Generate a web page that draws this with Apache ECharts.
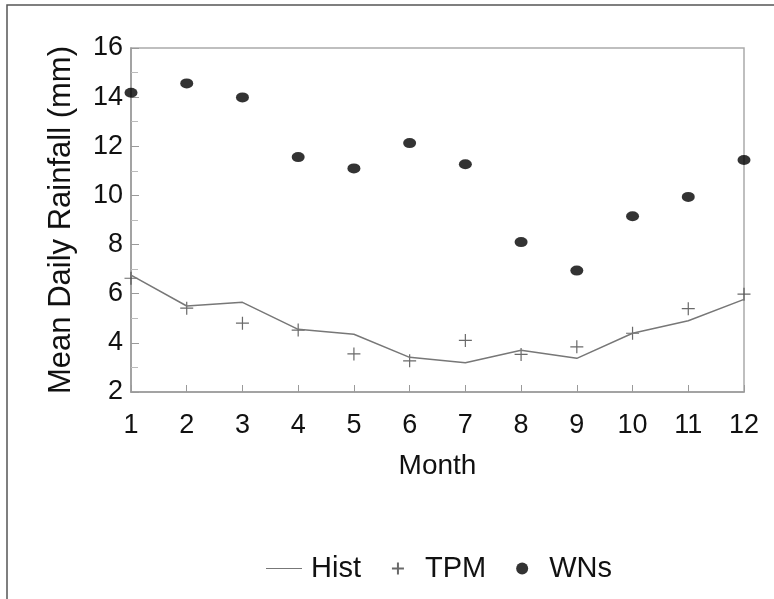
<!DOCTYPE html>
<html>
<head>
<meta charset="utf-8">
<script src="https://cdn.jsdelivr.net/npm/echarts@6/dist/echarts.min.js"></script>
<style>
  html, body { margin: 0; padding: 0; background: #fff; }
  #chart { width: 774px; height: 599px; }
</style>
</head>
<body>
<div id="chart"></div>
<script>
  // monthly mean daily rainfall
  const months = [1, 2, 3, 4, 5, 6, 7, 8, 9, 10, 11, 12]
  const hist = [6.76, 5.50, 5.65, 4.55, 4.35, 3.41, 3.19, 3.70, 3.37, 4.39, 4.90, 5.77]
  const tpm = [6.63, 5.41, 4.80, 4.52, 3.55, 3.27, 4.10, 3.53, 3.84, 4.39, 5.39, 5.98]
  const wns = [14.18, 14.56, 13.99, 11.56, 11.10, 12.13, 11.27, 8.10, 6.94, 9.15, 9.94, 11.44]

  const font = 'Liberation Sans, Arial, sans-serif'
  const axisGray = '#9a9a9a'
  const crossPath = 'path://M0,6 L12,6 M6,0 L6,12'
  // thin line icon for the legend, the extra moveTo points keep the box 36x12
  const lineIcon = 'path://M0,0 M36,12 M0,5.4 L36,5.4 L36,6.6 L0,6.6 Z'

  const pairs = (vals) => months.map((m, i) => [m, vals[i]])

  const chart = echarts.init(document.getElementById('chart'))
  chart.setOption({
    backgroundColor: '#fff',
    animation: false,
    graphic: [
      {
        type: 'polyline',
        shape: { points: [[7, 599], [7, 5], [774, 5]] },
        style: { stroke: '#555', lineWidth: 1.5, fill: null }
      }
    ],
    grid: {
      left: 131, right: 30, top: 48, bottom: 207,
      show: true, borderColor: '#aaa', borderWidth: 1.5
    },
    legend: {
      left: 261,
      top: 549,
      itemWidth: 36,
      itemHeight: 12,
      itemGap: 30,
      textStyle: { fontFamily: font, fontSize: 29, color: '#111', padding: [0, 0, 0, 4] },
      data: [
        { name: 'Hist', icon: lineIcon, itemStyle: { color: '#777', borderWidth: 0 } },
        'TPM',
        'WNs'
      ]
    },
    xAxis: {
      type: 'value',
      min: 1, max: 12, interval: 1,
      name: 'Month',
      nameLocation: 'middle',
      nameGap: 60,
      nameTextStyle: { fontFamily: font, fontSize: 28, color: '#111' },
      axisLine: { lineStyle: { color: axisGray, width: 1.5 } },
      axisTick: { inside: true, length: 7, lineStyle: { color: axisGray } },
      axisLabel: { fontFamily: font, fontSize: 27, color: '#111', margin: 20 },
      splitLine: { show: false }
    },
    yAxis: {
      type: 'value',
      min: 2, max: 16, interval: 2,
      name: 'Mean Daily Rainfall (mm)',
      nameLocation: 'middle',
      nameGap: 54,
      nameTextStyle: { fontFamily: font, fontSize: 31, color: '#111' },
      axisLine: { show: true, lineStyle: { color: axisGray, width: 1.5 } },
      axisTick: { inside: true, length: 8, lineStyle: { color: axisGray } },
      minorTick: { show: true, splitNumber: 2, length: 7, lineStyle: { color: '#bbb' } },
      axisLabel: { fontFamily: font, fontSize: 27, color: '#111', margin: 8 },
      splitLine: { show: false }
    },
    series: [
      {
        name: 'Hist',
        type: 'line',
        symbol: 'none',
        lineStyle: { color: '#777', width: 1.5 },
        itemStyle: { color: '#777' },
        data: pairs(hist)
      },
      {
        name: 'TPM',
        type: 'scatter',
        symbol: crossPath,
        symbolSize: 13,
        itemStyle: { color: 'transparent', borderColor: '#444', borderWidth: 1.2 },
        data: pairs(tpm)
      },
      {
        name: 'WNs',
        type: 'scatter',
        symbol: 'circle',
        symbolSize: [13, 10],
        itemStyle: { color: '#000' },
        data: pairs(wns)
      }
    ]
  })
</script>
</body>
</html>
